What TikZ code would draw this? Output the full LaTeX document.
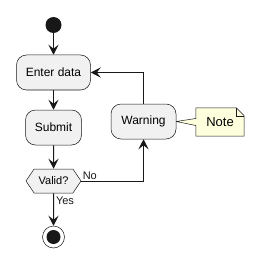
\documentclass[tikz,border=0pt]{standalone}
\usepackage{fontspec}
\setmainfont{Liberation Sans}
\usepackage{tikz}
\usetikzlibrary{arrows.meta,positioning,shapes.symbols,backgrounds}
\definecolor{ink}{RGB}{24,24,24}
\definecolor{actfill}{RGB}{241,241,241}
\definecolor{notefill}{RGB}{254,255,221}
\tikzset{
  act/.style={draw=ink,line width=0.5pt,rounded corners=10pt,fill=actfill,inner sep=0pt,
    font=\fontsize{12}{14}\selectfont,minimum height=35pt},
  cond/.style={signal,signal to=east and west,signal pointer angle=112,draw=ink,line width=0.5pt,
    fill=actfill,font=\fontsize{11}{13}\selectfont,minimum height=24pt,minimum width=55pt,inner sep=0pt},
  startdot/.style={circle,fill=ink,minimum size=16pt,inner sep=0pt},
  stopdot/.style={circle,draw=ink,fill=white,line width=0.5pt,minimum size=22pt,inner sep=0pt,
    path picture={\fill[ink] (path picture bounding box.center) circle (7pt);}},
  notebox/.style={draw=ink,fill=notefill,line width=0.5pt},
  flow/.style={-{Stealth[length=10pt,width=10pt,inset=4pt]},line width=1pt,ink},
  lbl/.style={font=\fontsize{11}{13}\selectfont,inner sep=1pt},
}
\begin{document}
\begin{tikzpicture}[x=1pt,y=-1pt]
  \useasboundingbox (0,0) rectangle (264,267);
  \node[startdot] (start) at (53.5,25) {};
  \node[act,minimum width=74pt] (enter) at (53.5,72.5) {Enter data};
  \node[act,minimum width=56pt] (submit) at (53.5,127.5) {Submit};
  \node[cond] (valid) at (53.5,181) {Valid?};
  \node[stopdot] (stop) at (53.5,237) {};
  \node[act,minimum width=65pt] (warn) at (143.5,121.5) {Warning};
  \node[minimum width=48pt,minimum height=28pt,inner sep=0pt,font=\fontsize{13}{15}\selectfont] (note) at (220,122) {Note};
  % note with its pointer
  \begin{scope}[on background layer]
    \filldraw[notebox] (note.north west) -- ([xshift=-8pt]note.north east) -- ([yshift=-8pt]note.north east)
      -- (note.south east) -- (note.south west) -- ([yshift=-3.5pt]note.west) -- (warn.east)
      -- ([yshift=3.5pt]note.west) -- cycle;
  \end{scope}
  \draw[ink,line width=0.5pt] ([xshift=-8pt]note.north east) -- ([xshift=-8pt,yshift=-8pt]note.north east)
    -- ([yshift=-8pt]note.north east);
  % flow
  \draw[flow] (start) -- (enter);
  \draw[flow] (enter) -- (submit);
  \draw[flow] (submit) -- (valid);
  \draw[flow] (valid) -- node[lbl,anchor=north west,pos=0,xshift=1pt,yshift=-2pt]{Yes} (stop);
  \draw[flow] (valid.east) -| node[lbl,anchor=south west,pos=0]{No} (warn.south);
  \draw[flow] (warn.north) |- (enter.east);
\end{tikzpicture}
\end{document}
